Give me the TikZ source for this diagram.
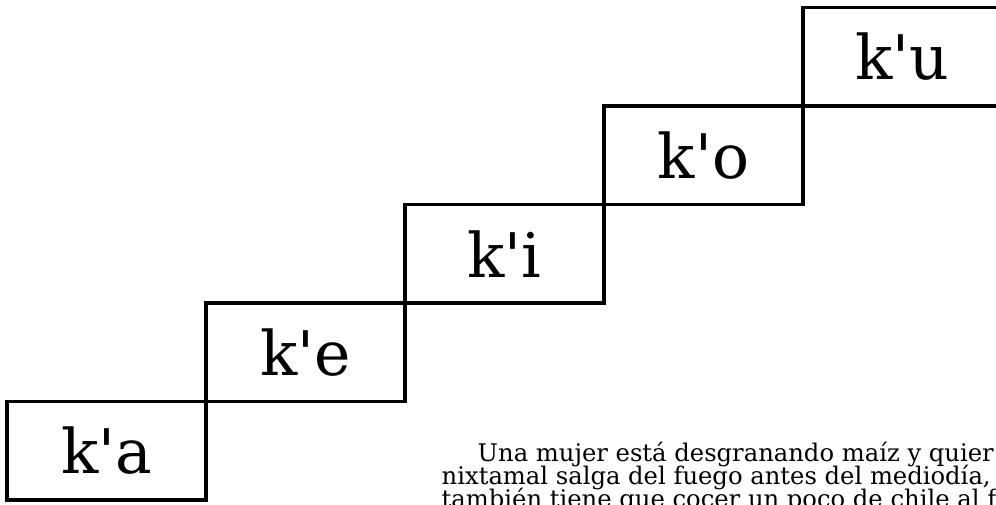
\documentclass[tikz,border=0pt]{standalone}
\usepackage{fontspec}
\usepackage{tikz}
\usetikzlibrary{positioning}
\newfontfamily\syllfont{DejaVu Serif}[Ligatures=TeXOff]
\newfontfamily\bodyfont{DejaVu Serif}

\begin{document}
\begin{tikzpicture}[
    syllable/.style={draw, line width=0.9pt, outer sep=0pt, inner sep=0pt,
        minimum width=1.99cm, minimum height=0.985cm,
        font=\syllfont\fontsize{17.5}{19}\selectfont},
    textline/.style={anchor=base west, inner sep=0pt,
        font=\bodyfont\fontsize{6.9}{8}\selectfont}]
    \useasboundingbox (0,0) rectangle (9.96,5.04);
    \clip (0,0) rectangle (9.96,5.04);

    % Staircase
    \node[syllable] (ka) at (1.065,0.5325) {k'a};
    \node[syllable, above right=0pt and 0pt of ka.north east, anchor=south west] (ke) {k'e};
    \node[syllable, above right=0pt and 0pt of ke.north east, anchor=south west] (ki) {k'i};
    \node[syllable, above right=0pt and 0pt of ki.north east, anchor=south west] (ko) {k'o};
    \node[syllable, above right=0pt and 0pt of ko.north east, anchor=south west] (ku) {k'u};

    % Text
    \node[textline] (line1) at (4.77,0.43) {Una mujer está desgranando maíz y quier};
    \node[textline] (line2) at (4.41,0.20) {nixtamal salga del fuego antes del mediodía,};
    \node[textline] (line3) at (4.41,-0.03) {también tiene que cocer un poco de chile al fuego};
\end{tikzpicture}
\end{document}
